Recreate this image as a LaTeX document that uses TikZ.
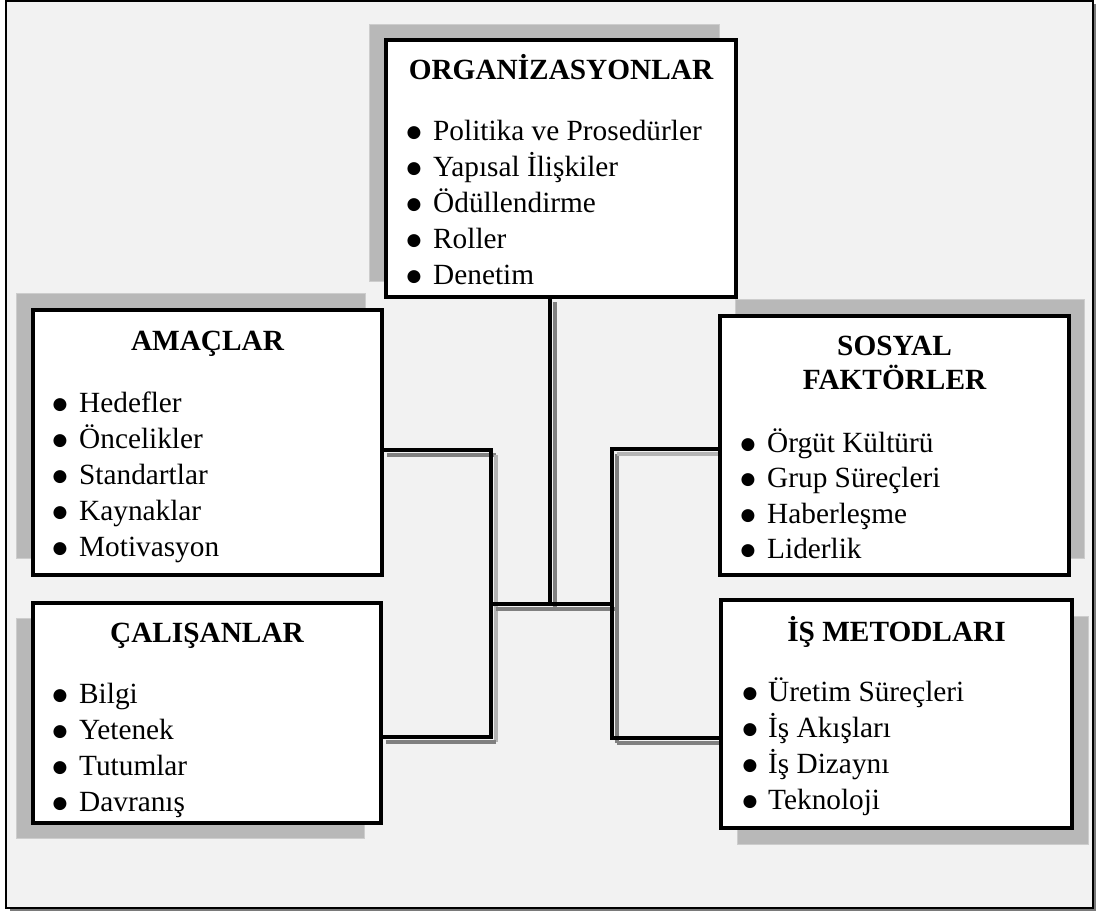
\documentclass[tikz,border=0pt]{standalone}
\usepackage{fontspec}
\setmainfont{Liberation Serif}
\newfontfamily\markfont{DejaVu Sans}
\usetikzlibrary{calc}

\definecolor{paper}{HTML}{F2F2F2}
\definecolor{boxshade}{HTML}{B8B8B8}
\definecolor{boxshadeedge}{HTML}{CDCDCD}
\definecolor{linedark}{HTML}{808080}
\definecolor{linelight}{HTML}{B4B4B4}
\definecolor{frameshade}{HTML}{7A7A7A}

\pgfdeclarelayer{back}
\pgfdeclarelayer{shade}
\pgfdeclarelayer{wires}
\pgfsetlayers{back,shade,wires,main}

\tikzset{
  panel/.style={draw=black, line width=4pt, fill=white, inner sep=0pt, outer sep=0pt, rectangle},
  panelshade/.style={fill=boxshade, draw=boxshadeedge, line width=0.8pt},
  link/.style={draw=black, line width=3.5pt},
  linkdark/.style={draw=linedark, line width=3.5pt},
  linklight/.style={draw=linelight, line width=3.5pt},
  heading/.style={font=\fontsize{29.3}{35}\selectfont\bfseries, anchor=base, inner sep=0pt},
  entry/.style={font=\fontsize{29.3}{35}\selectfont, anchor=base west, inner sep=0pt},
  dot/.style={font=\markfont\fontsize{17}{17}\selectfont, anchor=base, inner sep=0pt},
}

% one list line: bullet centre x, text x, baseline y, text, name
\newcommand{\listline}[5]{%
  \node[dot] (#5-b) at (#1,#3-3) {●};
  \node[entry] (#5) at (#2,#3) {#4};
}

\begin{document}
\begin{tikzpicture}[x=1pt,y=-1pt]
\useasboundingbox (0,0) rectangle (1097,913);

% outer frame with its drop shadow
\begin{pgfonlayer}{back}
  \fill[frameshade] (10,4) rectangle (1096,911);
  \draw[fill=paper, line width=1.5pt] (6,1) rectangle (1093,908);
\end{pgfonlayer}

% the five boxes
\node[panel, minimum width=350pt, minimum height=257pt] (org) at (561,168.5) {};
\node[panel, minimum width=349pt, minimum height=265pt] (ama) at (207.5,442.5) {};
\node[panel, minimum width=348pt, minimum height=220pt] (cal) at (207,713) {};
\node[panel, minimum width=349pt, minimum height=259pt] (sos) at (894.5,445.5) {};
\node[panel, minimum width=351pt, minimum height=228pt] (ism) at (896.5,714) {};

% box shadows
\begin{pgfonlayer}{shade}
  \path[panelshade] ($(org.north west)+(-17,-16)$) rectangle ($(org.south east)+(-17,-16)$);
  \path[panelshade] ($(ama.north west)+(-17,-17)$) rectangle ($(ama.south east)+(-17,-17)$);
  \path[panelshade] ($(cal.north west)+(-17,15.5)$) rectangle ($(cal.south east)+(-17,15.5)$);
  \path[panelshade] ($(sos.north west)+(15.5,-17)$) rectangle ($(sos.south east)+(15.5,-17)$);
  \path[panelshade] ($(ism.north west)+(16,16.5)$) rectangle ($(ism.south east)+(16,16.5)$);
\end{pgfonlayer}

% junction points of the connectors
\coordinate (hub) at (550,604);
\coordinate (lt) at (491,450);
\coordinate (lb) at (491,737);
\coordinate (rt) at (612,449);
\coordinate (rb) at (612,738);
\coordinate (lh) at (491,604);
\coordinate (rh) at (612,604);

\begin{pgfonlayer}{wires}
  % grey echo of each connector, offset down and to the right
  \begin{scope}[transform canvas={xshift=5pt, yshift=-5pt}]
    \draw[linkdark] (ama.east |- lt) -- (lt);
    \draw[linklight] (lt) -- (lb);
    \draw[linkdark] (lb) -- (cal.east |- lb);
    \draw[linkdark] (org.south -| hub) -- (hub);
    \draw[linkdark] (lh) -- (rh);
    \draw[linkdark] (rt) -- (rb);
    \draw[linklight] (sos.west |- rt) -- (rt);
    \draw[linkdark] (rb) -- (ism.west |- rb);
  \end{scope}
  % black connectors
  \draw[link] (ama.east |- lt) -- (lt) -- (lb) -- (cal.east |- lb);
  \draw[link] (sos.west |- rt) -- (rt) -- (rb) -- (ism.west |- rb);
  \draw[link] (org.south -| hub) -- (hub);
  \draw[link] (lh) -- (rh);
\end{pgfonlayer}

% ORGANİZASYONLAR
\node[heading] (org-t) at (561,79) {ORGANİZASYONLAR};
\foreach \t [count=\i] in {Politika ve Prosedürler, Yapısal İlişkiler, Ödüllendirme, Roller, Denetim}{
  \listline{414}{433}{104+36*\i}{\t}{org-i\i}
}

% AMAÇLAR
\node[heading] (ama-t) at (207.5,350) {AMAÇLAR};
\foreach \t [count=\i] in {Hedefler, Öncelikler, Standartlar, Kaynaklar, Motivasyon}{
  \listline{60}{79}{376+36*\i}{\t}{ama-i\i}
}

% ÇALIŞANLAR
\node[heading] (cal-t) at (207,642) {ÇALIŞANLAR};
\foreach \t [count=\i] in {Bilgi, Yetenek, Tutumlar, Davranış}{
  \listline{60}{79}{667+36*\i}{\t}{cal-i\i}
}

% SOSYAL FAKTÖRLER
\node[heading] (sos-t1) at (894.5,355) {SOSYAL};
\node[heading] (sos-t2) at (894.5,389) {FAKTÖRLER};
\foreach \t [count=\i] in {Örgüt Kültürü, Grup Süreçleri, Haberleşme, Liderlik}{
  \listline{748}{767}{416.5+35.5*\i}{\t}{sos-i\i}
}

% İŞ METODLARI
\node[heading] (ism-t) at (896.5,641) {İŞ METODLARI};
\foreach \t [count=\i] in {Üretim Süreçleri, İş Akışları, İş Dizaynı, Teknoloji}{
  \listline{750}{768}{665+36*\i}{\t}{ism-i\i}
}
\end{tikzpicture}
\end{document}
